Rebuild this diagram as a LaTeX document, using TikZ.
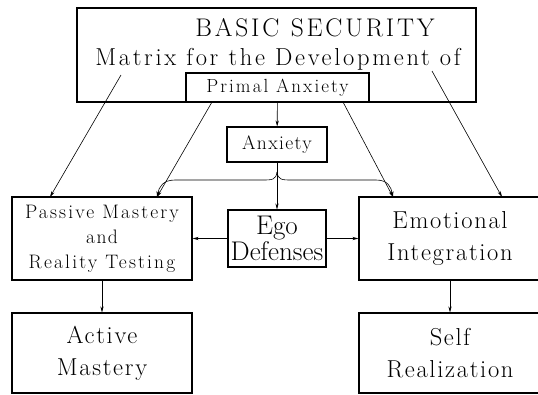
\documentclass[tikz,border=0pt]{standalone}
\usepackage{amsmath}
\usepackage{xcolor}
\usepackage{fontspec}
\usepackage{tikz}
\usetikzlibrary{arrows.meta,shapes.misc}

\setmainfont{Latin Modern Roman}
\newfontfamily\widefont{Latin Modern Roman}[LetterSpace=11]
\newfontfamily\midfont{Latin Modern Roman}[LetterSpace=7]

\tikzset{
  box/.style={draw, line width=1.1pt, inner sep=0pt, align=center},
  link/.style={->, line width=0.6pt},
}

\begin{document}
\begin{tikzpicture}[>={Stealth[length=6pt,width=3.2pt]},x=1pt,y=-1pt]
                \useasboundingbox (0,0) rectangle (538,394);

                % top frame and its inner box
                \node[box, minimum width=399pt, minimum height=94pt] (frame) at (276.5,55) {};
                \node[anchor=base, font=\widefont\fontsize{25.5}{30}\selectfont] (basic) at (315,36) {BASIC\hspace{0.45em}SECURITY};
                \node[anchor=base, font=\widefont\fontsize{24.5}{30}\selectfont] (matrix) at (278,65) {Matrix for the Development of};
                \node[box, minimum width=183pt, minimum height=29pt, font=\widefont\fontsize{19}{22}\selectfont] (primal) at (277.5,87.5) {Primal Anxiety};

                \node[box, minimum width=100pt, minimum height=35pt, font=\midfont\fontsize{19.5}{22}\selectfont] (anxiety) at (277,144.5) {Anxiety};

                % middle row
                \node[box, minimum width=180pt, minimum height=83pt, font=\widefont\fontsize{19.5}{25}\selectfont] (passive) at (102,238.5) {Passive Mastery\\{\midfont and}\\Reality Testing};
                \node[box, minimum width=98pt, minimum height=57pt, font=\fontsize{27}{26}\selectfont] (ego) at (277,238.5) {Ego\\\hspace*{-4pt}Defenses\hspace*{-4pt}};
                \node[box, minimum width=182pt, minimum height=83pt, font=\midfont\fontsize{24.5}{32}\selectfont] (emotional) at (450,238.5) {Emotional\\Integration};

                % bottom row
                \node[box, minimum width=180pt, minimum height=80pt, font=\midfont\fontsize{24.5}{32}\selectfont] (active) at (102,353) {Active\\Mastery};
                \node[box, minimum width=182pt, minimum height=80pt, font=\midfont\fontsize{24.5}{32}\selectfont] (self) at (450,353) {Self\\Realization};

                % ends of the slanted lines
                \coordinate (frame-l) at (121,75);
                \coordinate (frame-r) at (432,71);
                \coordinate (primal-l) at (212,102);
                \coordinate (primal-r) at (343,102);
                \coordinate (passive-a) at (50,197);
                \coordinate (passive-b) at (157,197);
                \coordinate (emotional-a) at (393,197);
                \coordinate (emotional-b) at (502,197);
                \coordinate (cusp) at (277,172);

                \draw[link] (primal) -- (anxiety);
                \draw[link] (anxiety) -- (ego);
                \draw[link] (frame-l) -- (passive-a);
                \draw[link] (frame-r) -- (emotional-b);
                \draw[link] (primal-l) -- (passive-b);
                \draw[link] (primal-r) -- (emotional-a);

                % brace under Anxiety
                \draw[link] (cusp) .. controls (276,180) and (272,180) .. (262,180) -- (175,180)
                      .. controls (163,180) and (159,187) .. (passive-b);
                \draw[link] (cusp) .. controls (278,180) and (282,180) .. (292,180) -- (376,180)
                      .. controls (388,180) and (391,187) .. (emotional-a);

                \draw[link] (ego) -- (passive);
                \draw[link] (ego) -- (emotional);
                \draw[link] (passive) -- (active);
                \draw[link] (emotional) -- (self);
             \end{tikzpicture}
\end{document}
